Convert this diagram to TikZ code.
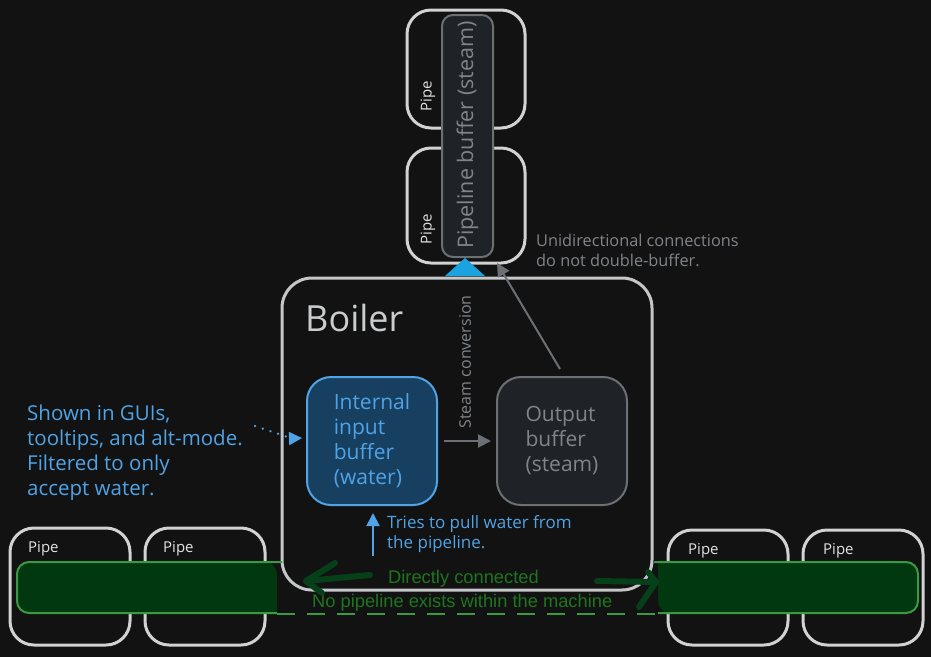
\documentclass[tikz,border=0pt]{standalone}
\usepackage{fontspec}
\setmainfont{Open Sans}
\newfontfamily\plainsans{Liberation Sans}
\usetikzlibrary{arrows.meta,calc}
\definecolor{bg}{HTML}{121212}
\definecolor{pipegray}{HTML}{D2D2D2}
\definecolor{boilergray}{HTML}{C4C6C8}
\definecolor{bufgray}{HTML}{1F2226}
\definecolor{bufstroke}{HTML}{6C6F74}
\definecolor{graytext}{HTML}{81858A}
\definecolor{myblue}{HTML}{4FA3E6}
\definecolor{inblue}{HTML}{173F5F}
\definecolor{mycyan}{HTML}{1BA3E0}
\definecolor{barfill}{HTML}{02380F}
\definecolor{barstroke}{HTML}{3A9A44}
\definecolor{greentext}{HTML}{1E751F}
\definecolor{arrowgreen}{HTML}{064018}
\definecolor{labelwhite}{HTML}{E2E2E2}
\begin{document}
\begin{tikzpicture}[x=1pt,y=-1pt,
  pipebox/.style={draw=pipegray, line width=3pt, rounded corners=24pt, minimum width=118pt, inner sep=0pt},
  pipelabel/.style={text=labelwhite, font=\fontsize{15}{17}\selectfont, inner sep=0pt},
  bufbox/.style={line width=2pt, rounded corners=24pt, minimum width=130pt, minimum height=128pt, align=left, font=\fontsize{21}{25}\selectfont, inner sep=0pt},
  grayline/.style={draw=bufstroke, line width=2pt, -{Triangle[length=13pt,width=13pt]}},
  blueline/.style={draw=myblue, line width=2pt, -{Triangle[length=13pt,width=13pt]}},
  thickgreen/.style={draw=arrowgreen, line width=6pt, line cap=round, line join=round}
]
\fill[bg] (0,0) rectangle (931,657);
\useasboundingbox (0,0) rectangle (931,657);

% top pipes
\node[pipebox, minimum height=118pt] (tp1) at (466,69) {};
\node[pipebox, minimum height=115pt] (tp2) at (466,205.5) {};
\node[pipelabel, rotate=90] (tp1l) at (428,96) {Pipe};
\node[pipelabel, rotate=90] (tp2l) at (428,229) {Pipe};

% pipeline buffer
\node[draw=bufstroke, fill=bufgray, line width=2pt, rounded corners=11pt, minimum width=51pt, minimum height=242pt, inner sep=0pt] (pbuf) at (467.5,136) {};
\node[rotate=90, text=graytext, font=\fontsize{21.5}{24}\selectfont] (pbufl) at (467.5,135) {Pipeline buffer (steam)};

% boiler
\node[draw=boilergray, line width=3pt, rounded corners=30pt, minimum width=370pt, minimum height=312pt, inner sep=0pt] (boiler) at (467,434) {};
\node[anchor=base west, text=boilergray!90!white, font=\fontsize{36}{40}\selectfont, inner sep=0pt] (boilerl) at (305,331) {Boiler};

% cyan triangle
\fill[mycyan] (445,276) -- (465,258) -- (485,276) -- cycle;

% buffers
\node[bufbox, draw=myblue, fill=inblue, text=myblue] (inbuf) at (372,441) {Internal\\input\\buffer\\(water)};
\node[bufbox, draw=bufstroke, fill=bufgray, text=graytext] (outbuf) at (562,441) {Output\\buffer\\(steam)};

\draw[grayline] ([xshift=6pt]inbuf.east) -- ([xshift=-5pt]outbuf.west);
\node[rotate=90, text=graytext, font=\fontsize{16}{18}\selectfont, inner sep=0pt] (steaml) at (465,362) {Steam conversion};
\draw[grayline] ([xshift=-2pt,yshift=7pt]outbuf.north) -- ($(pbuf.south east)+(3,5)$);
\node[anchor=north west, align=left, text=graytext, font=\fontsize{16.3}{20}\selectfont, inner sep=0pt] (unil) at (536,234) {Unidirectional connections\\do not double-buffer.};

% blue annotation
\node[anchor=north west, align=left, text=myblue, font=\fontsize{20.5}{25}\selectfont, inner sep=0pt] (shown) at (27,405) {Shown in GUIs,\\tooltips, and alt-mode.\\Filtered to only\\accept water.};
\coordinate (dotstart) at (255,426);
\draw[draw=myblue, line width=2.5pt, line cap=round, dash pattern=on 0.1pt off 8pt] (dotstart) -- ([xshift=-14pt,yshift=2.5pt]inbuf.west);
\draw[blueline] ([xshift=-16pt,yshift=2.5pt]inbuf.west) -- ([xshift=-4pt,yshift=3pt]inbuf.west);

\coordinate (upstart) at (373,556);
\draw[blueline] (upstart) -- ([xshift=1pt,yshift=-7pt]inbuf.south);
\node[anchor=north west, align=left, text=myblue, font=\fontsize{17}{20}\selectfont, inner sep=0pt] (tries) at (387,515) {Tries to pull water from\\the pipeline.};

% bottom pipes
\node[pipebox, minimum width=120pt, minimum height=117pt] (bl1) at (70,586.5) {};
\node[pipebox, minimum width=120pt, minimum height=117pt] (bl2) at (205,586.5) {};
\node[pipebox, minimum width=120pt, minimum height=115pt] (br1) at (728,587.5) {};
\node[pipebox, minimum width=120pt, minimum height=115pt] (br2) at (863,587.5) {};
\node[pipelabel, anchor=west] (bl1l) at (28,549) {Pipe};
\node[pipelabel, anchor=west] (bl2l) at (163,549) {Pipe};
\node[pipelabel, anchor=west] (br1l) at (688,551) {Pipe};
\node[pipelabel, anchor=west] (br2l) at (823,551) {Pipe};

% green bars
\fill[barfill, rounded corners=12pt] (277,613) -- (17,613) -- (17,562) -- (277,562) [sharp corners] -- cycle;
\draw[barstroke, line width=2pt, rounded corners=12pt] (282,562) -- (17,562) -- (17,613) -- (277,613);
\fill[barfill, rounded corners=12pt] (658,562) -- (918,562) -- (918,613) -- (658,613) [sharp corners] -- cycle;
\draw[barstroke, line width=2pt, rounded corners=12pt] (654,562) -- (918,562) -- (918,613) -- (658,613);
\coordinate (lbar) at (277,614);
\coordinate (rbar) at (660,614);
\draw[barstroke, line width=1.5pt, dash pattern=on 18pt off 12pt] (lbar) -- (rbar);

% texts
\node[anchor=base west, text=greentext, font=\plainsans\fontsize{18.3}{20}\selectfont, inner sep=0pt] (direct) at (388,583) {Directly connected};
\node[anchor=base west, text=greentext, font=\plainsans\fontsize{18.3}{20}\selectfont, inner sep=0pt] (nopipe) at (312,607) {No pipeline exists within the machine};

% thick arrows
\coordinate (la1) at (370,575);
\coordinate (la2) at (306,581);
\draw[thickgreen] (la1) -- (la2);
\draw[thickgreen] (335,563) -- (la2) -- (322,593);
\coordinate (ra1) at (597,581);
\coordinate (ra2) at (656,582);
\draw[thickgreen] (ra1) -- (ra2);
\draw[thickgreen] (648,572) -- (ra2) -- (639,607);
\end{tikzpicture}
\end{document}
